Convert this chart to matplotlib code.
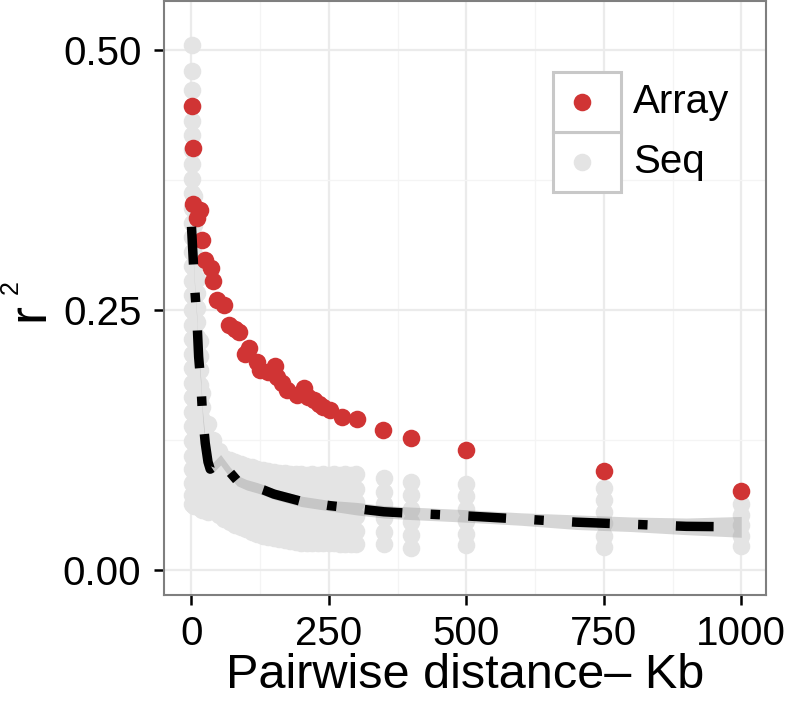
import matplotlib
matplotlib.use('Agg')
import matplotlib.pyplot as plt
from matplotlib.patches import Rectangle
import numpy as np

# Array: mean r2 per pairwise distance (Kb)
array_dist = [1, 3, 2, 10, 15, 20, 24, 36, 40, 47, 59, 68, 80, 86, 98, 104, 119, 125,
              140, 152, 156, 165, 174, 192, 204, 212, 222, 232, 240, 252, 273, 301,
              349, 400, 500, 750, 1000]
array_r2 = [0.446, 0.406, 0.352, 0.338, 0.346, 0.317, 0.298, 0.290, 0.278, 0.260,
            0.255, 0.236, 0.232, 0.229, 0.208, 0.213, 0.200, 0.192, 0.190, 0.196,
            0.186, 0.180, 0.173, 0.168, 0.175, 0.166, 0.163, 0.160, 0.157, 0.154,
            0.147, 0.145, 0.135, 0.127, 0.115, 0.095, 0.076]

# Seq: r2 values per pairwise distance (one list per distance)
seq_dist = [1, 5, 10, 15, 20, 30, 40, 50, 60, 70, 80, 90, 100, 110, 120, 130, 140,
            150, 160, 170, 180, 190, 200, 210, 220, 230, 240, 250, 260, 270, 280,
            290, 300, 350, 400, 500, 750, 1000]
seq_r2 = [
    [0.505, 0.480, 0.461, 0.446, 0.432, 0.418, 0.404, 0.390, 0.376, 0.362, 0.348,
     0.334, 0.320, 0.306, 0.292, 0.278, 0.264, 0.250, 0.236, 0.222, 0.208, 0.194,
     0.180, 0.166, 0.152, 0.138, 0.124, 0.110, 0.097, 0.084, 0.072, 0.063],
    [0.360, 0.346, 0.332, 0.318, 0.304, 0.290, 0.276, 0.262, 0.248, 0.234, 0.220,
     0.206, 0.192, 0.178, 0.164, 0.150, 0.136, 0.122, 0.108, 0.094, 0.081, 0.070,
     0.062],
    [0.280, 0.266, 0.252, 0.238, 0.224, 0.210, 0.196, 0.182, 0.168, 0.154, 0.140,
     0.126, 0.112, 0.098, 0.085, 0.072, 0.062],
    [0.220, 0.206, 0.192, 0.178, 0.164, 0.150, 0.136, 0.122, 0.108, 0.094, 0.081,
     0.068, 0.060],
    [0.170, 0.157, 0.144, 0.131, 0.118, 0.105, 0.092, 0.079, 0.066, 0.058],
    [0.140, 0.127, 0.114, 0.101, 0.088, 0.075, 0.062, 0.056],
    [0.125, 0.112, 0.099, 0.086, 0.072, 0.058],
    [0.114, 0.101, 0.088, 0.075, 0.064, 0.053],
    [0.108, 0.096, 0.084, 0.072, 0.060, 0.049],
    [0.106, 0.094, 0.082, 0.070, 0.057, 0.046],
    [0.104, 0.092, 0.080, 0.068, 0.055, 0.043],
    [0.102, 0.090, 0.078, 0.066, 0.053, 0.041],
    [0.100, 0.088, 0.076, 0.063, 0.051, 0.039],
    [0.099, 0.087, 0.074, 0.061, 0.049, 0.037],
    [0.097, 0.085, 0.072, 0.059, 0.047, 0.035],
    [0.096, 0.084, 0.071, 0.058, 0.045, 0.033],
    [0.095, 0.083, 0.070, 0.057, 0.044, 0.032],
    [0.094, 0.082, 0.069, 0.056, 0.043, 0.031],
    [0.093, 0.081, 0.068, 0.055, 0.042, 0.030],
    [0.093, 0.080, 0.067, 0.054, 0.041, 0.029],
    [0.092, 0.079, 0.066, 0.053, 0.040, 0.028],
    [0.092, 0.079, 0.066, 0.053, 0.040, 0.027],
    [0.092, 0.079, 0.066, 0.052, 0.039, 0.026],
    [0.091, 0.078, 0.065, 0.052, 0.039, 0.026],
    [0.092, 0.079, 0.065, 0.052, 0.039, 0.026],
    [0.091, 0.078, 0.065, 0.052, 0.039, 0.026],
    [0.092, 0.078, 0.065, 0.052, 0.039, 0.026],
    [0.091, 0.078, 0.065, 0.052, 0.039, 0.026],
    [0.092, 0.078, 0.065, 0.052, 0.039, 0.026],
    [0.091, 0.078, 0.065, 0.052, 0.039, 0.025],
    [0.092, 0.079, 0.065, 0.052, 0.039, 0.025],
    [0.091, 0.078, 0.065, 0.052, 0.038, 0.025],
    [0.092, 0.078, 0.065, 0.052, 0.038, 0.025],
    [0.088, 0.075, 0.063, 0.050, 0.037, 0.025],
    [0.085, 0.072, 0.059, 0.046, 0.034, 0.021],
    [0.083, 0.071, 0.059, 0.047, 0.035, 0.024],
    [0.079, 0.067, 0.056, 0.045, 0.033, 0.022],
    [0.063, 0.053, 0.043, 0.033, 0.023],
]

# smoothed fit with its confidence band half-width
fit_x = [0, 3, 6, 10, 13, 17, 20, 25, 30, 34, 40, 53, 60, 70, 83, 100, 120, 131,
         150, 200, 250, 300, 350, 400, 500, 600, 700, 800, 900, 1000]
fit_y = [0.330, 0.300, 0.270, 0.240, 0.205, 0.180, 0.150, 0.122, 0.104, 0.097,
         0.099, 0.106, 0.101, 0.094, 0.086, 0.082, 0.079, 0.077, 0.073, 0.066,
         0.062, 0.059, 0.056, 0.0545, 0.052, 0.049, 0.046, 0.044, 0.042, 0.0415]
fit_se = [0.002, 0.002, 0.002, 0.002, 0.003, 0.003, 0.003, 0.004, 0.004, 0.004,
          0.005, 0.005, 0.005, 0.005, 0.005, 0.005, 0.005, 0.005, 0.005, 0.005,
          0.005, 0.006, 0.006, 0.006, 0.006, 0.006, 0.007, 0.007, 0.008, 0.010]

RED = '#D03434'
GREY = '#E4E4E4'

plt.rcParams['font.family'] = ['Liberation Sans', 'DejaVu Sans']

W, H = 787, 707
fig = plt.figure(figsize=(W / 100, H / 100), dpi=100)
ax = fig.add_axes([164 / W, (H - 595) / H, (766 - 164) / W, (595 - 1) / H])

# seq cloud
sx, sy = [], []
for d, vals in zip(seq_dist, seq_r2):
    sx += [d] * len(vals)
    sy += vals
ax.scatter(sx, sy, s=160, color=GREY, linewidths=0, zorder=2)
ax.scatter(array_dist, array_r2, s=160, color=RED, linewidths=0, zorder=3)

fy = np.array(fit_y)
fse = np.array(fit_se)
ax.fill_between(fit_x, fy - fse, fy + fse, color='#999999', alpha=0.4,
                linewidth=0, zorder=4)
ax.plot(fit_x, fit_y, color='black', linewidth=6.8, linestyle=(0, (4, 3, 1, 3)),
        dash_capstyle='butt', zorder=5)

ax.set_xlim(-50, 1045)
ax.set_ylim(-0.024, 0.547)
ax.set_xticks([0, 250, 500, 750, 1000])
ax.set_xticks([125, 375, 625, 875], minor=True)
ax.set_yticks([0, 0.25, 0.5])
ax.set_yticks([0.125, 0.375], minor=True)
ax.set_yticklabels(['0.00', '0.25', '0.50'])
ax.grid(which='major', color='#EBEBEB', linewidth=1.6, zorder=0)
ax.grid(which='minor', color='#F4F4F4', linewidth=0.9, zorder=0)
ax.set_axisbelow(True)
ax.tick_params(which='major', length=7.2, width=1.8, color='black',
               labelsize=29, pad=7)
ax.tick_params(axis='y', pad=9)
ax.tick_params(which='minor', length=0)
for sp in ax.spines.values():
    sp.set_color('#7F7F7F')
    sp.set_linewidth(1.5)

ax.set_xlabel('Pairwise distance\u2013 Kb', fontsize=35, labelpad=0)

# y title r^2: big r with a raised 2, both rotated
fig.text(43 / W, 1 - 312 / H, 'r', fontsize=39, rotation=90,
         rotation_mode='anchor', ha='center', va='baseline')
fig.text(18 / W, 1 - 287 / H, '2', fontsize=18, rotation=90,
         rotation_mode='anchor', ha='center', va='baseline')

# legend keys drawn like ggplot boxed keys
kax = fig.add_axes([553 / W, (H - 192) / H, 68 / W, 120 / H])
kax.set_xlim(0, 1)
kax.set_ylim(0, 2)
kax.axis('off')
for y0 in (0, 1):
    kax.add_patch(Rectangle((0, y0), 1, 1, facecolor='white', edgecolor='#C8C8C8',
                            linewidth=2.2, transform=kax.transData, clip_on=False))
kax.scatter([0.43], [1.5], s=160, color=RED, linewidths=0)
kax.scatter([0.43], [0.5], s=160, color=GREY, linewidths=0)
fig.text(633 / W, 1 - 102 / H, 'Array', fontsize=29, va='center', ha='left')
fig.text(633 / W, 1 - 162 / H, 'Seq', fontsize=29, va='center', ha='left')

fig.savefig('out.png', dpi=100)
